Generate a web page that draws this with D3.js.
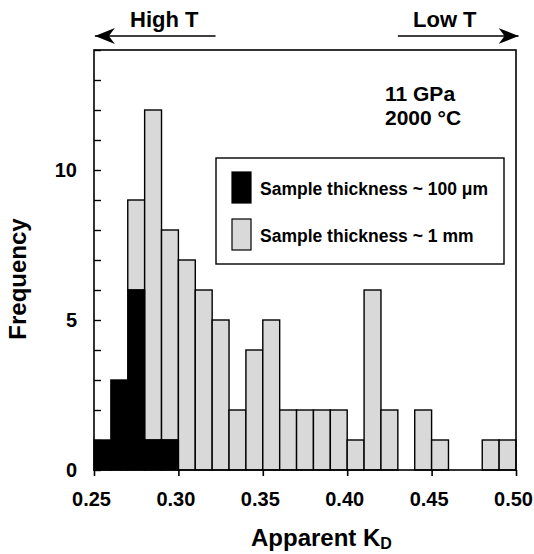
<!DOCTYPE html>
<html>
<head>
<meta charset="utf-8">
<script src="https://cdn.jsdelivr.net/npm/d3@7"></script>
<style>
  body { margin: 0; background: #fff; }
  svg { display: block; font-family: "Liberation Sans", Arial, sans-serif; font-weight: bold; }
</style>
</head>
<body>
<script>
// bin left edges (width 0.01)
var binStarts = [0.25,0.26,0.27,0.28,0.29,0.30,0.31,0.32,0.33,0.34,0.35,0.36,0.37,
                 0.38,0.39,0.40,0.41,0.42,0.43,0.44,0.45,0.46,0.47,0.48,0.49];
var thin  = [1,3,6,1,1,0,0,0,0,0,0,0,0,0,0,0,0,0,0,0,0,0,0,0,0];   // ~100 um
var thick = [0,0,3,11,7,7,6,5,2,4,5,2,2,2,2,1,6,2,0,2,1,0,0,1,1];  // ~1 mm
var BIN = 0.01;
var xTicks = [0.25,0.30,0.35,0.40,0.45,0.50];
var yLabels = [0,5,10];
var yMinor = [0,1,2,3,4,5,6,7,8,9,10,11,12,13,14];
var legendItems = ["Sample thickness ~ 100 \u03bcm", "Sample thickness ~ 1 mm"];

var WIDTH = 534, HEIGHT = 554;
var LEFT = 94, RIGHT = 516, TOP = 50, BOTTOM = 470;
var GRAY = "#d9d9d9";

var x = d3.scaleLinear().domain([0.25, 0.50]).range([LEFT, RIGHT]);
var y = d3.scaleLinear().domain([0, 14]).range([BOTTOM, TOP]);

var svg = d3.select("body").append("svg")
    .attr("width", WIDTH)
    .attr("height", HEIGHT);

var rows = binStarts.map(function (b, i) {
  return {x0: b, x1: b + BIN, thin: thin[i], total: thin[i] + thick[i]};
});

// thick (gray) part stacked above the thin one
svg.append("g").selectAll("rect")
  .data(rows.filter(function (d) { return d.total > d.thin; }))
  .enter().append("rect")
  .attr("x", function (d) { return x(d.x0); })
  .attr("width", function (d) { return x(d.x1) - x(d.x0); })
  .attr("y", function (d) { return y(d.total); })
  .attr("height", function (d) { return y(d.thin) - y(d.total); })
  .attr("fill", GRAY).attr("stroke", "#000").attr("stroke-width", 1.4);

svg.append("g").selectAll("rect")
  .data(rows.filter(function (d) { return d.thin > 0; }))
  .enter().append("rect")
  .attr("x", function (d) { return x(d.x0); })
  .attr("width", function (d) { return x(d.x1) - x(d.x0); })
  .attr("y", function (d) { return y(d.thin); })
  .attr("height", function (d) { return y(0) - y(d.thin); })
  .attr("fill", "#000").attr("stroke", "#000").attr("stroke-width", 1.4);

// frame
svg.append("rect")
  .attr("x", LEFT).attr("y", TOP)
  .attr("width", RIGHT - LEFT).attr("height", BOTTOM - TOP)
  .attr("fill", "none").attr("stroke", "#000").attr("stroke-width", 1.6);

// x axis: ticks outside
var xAxis = d3.axisBottom(x).tickValues(xTicks).tickSize(6).tickPadding(16)
  .tickFormat(d3.format(".2f"));
var gx = svg.append("g").attr("transform", "translate(0," + BOTTOM + ")").call(xAxis);
gx.select(".domain").remove();
gx.selectAll("line").attr("stroke-width", 1.6);
gx.selectAll("text").attr("font-size", 20).attr("font-family", "Liberation Sans, Arial")
  .attr("font-weight", "bold").attr("fill", "#000").attr("dx", -3);

// y axis: minor ticks inside, labels at 0, 5, 10
var gy = svg.append("g").attr("transform", "translate(" + LEFT + ",0)")
  .call(d3.axisRight(y).tickValues(yMinor).tickSize(7).tickFormat(""));
gy.select(".domain").remove();
gy.selectAll("line").attr("stroke-width", 1.4);

svg.append("g").selectAll("text")
  .data(yLabels)
  .enter().append("text")
  .attr("x", LEFT - 17)
  .attr("y", function (d) { return y(d) + 7; })
  .attr("text-anchor", "end")
  .attr("font-size", 20)
  .text(function (d) { return d; });

// axis titles
var xt = svg.append("text")
  .attr("x", 251).attr("y", 546)
  .attr("font-size", 24);
xt.append("tspan").text("Apparent K");
xt.append("tspan").attr("font-size", 16).attr("dy", 3).text("D");

svg.append("text")
  .attr("transform", "translate(26,279) rotate(-90)")
  .attr("text-anchor", "middle")
  .attr("font-size", 24)
  .text("Frequency");

// arrows above the plot
var defs = svg.append("defs");
defs.append("marker")
  .attr("id", "head")
  .attr("viewBox", "0 0 20 16")
  .attr("refX", 20).attr("refY", 8)
  .attr("markerWidth", 20).attr("markerHeight", 16)
  .attr("markerUnits", "userSpaceOnUse")
  .attr("orient", "auto")
  .append("path")
  .attr("d", "M0,0 L20,8 L0,16 L6,8 Z")
  .attr("fill", "#000");

svg.append("line")
  .attr("x1", x(0.322)).attr("x2", x(0.2505)).attr("y1", 36).attr("y2", 36)
  .attr("stroke", "#000").attr("stroke-width", 1.6).attr("marker-end", "url(#head)");
svg.append("line")
  .attr("x1", x(0.430)).attr("x2", x(0.5015)).attr("y1", 36).attr("y2", 36)
  .attr("stroke", "#000").attr("stroke-width", 1.6).attr("marker-end", "url(#head)");

svg.append("text").attr("x", 130).attr("y", 27).attr("font-size", 22).text("High T");
svg.append("text").attr("x", 413).attr("y", 27).attr("font-size", 22).text("Low T");

// conditions
svg.append("text").attr("x", 385).attr("y", 101).attr("font-size", 21).text("11 GPa");
svg.append("text").attr("x", 385).attr("y", 125).attr("font-size", 21).text("2000 \u00b0C");

// legend
var lg = svg.append("g");
lg.append("rect")
  .attr("x", 216).attr("y", 158).attr("width", 288).attr("height", 106)
  .attr("fill", "#fff").attr("stroke", "#000").attr("stroke-width", 1.4);
var swatch = ["#000", GRAY];
var item = lg.selectAll("g.item")
  .data(legendItems)
  .enter().append("g")
  .attr("class", "item")
  .attr("transform", function (d, i) { return "translate(232," + (172 + i * 47) + ")"; });
item.append("rect")
  .attr("width", 19).attr("height", 31)
  .attr("fill", function (d, i) { return swatch[i]; })
  .attr("stroke", "#000").attr("stroke-width", 1.2);
item.append("text")
  .attr("x", 28).attr("y", 23)
  .attr("font-size", 17.5)
  .text(function (d) { return d; });
</script>
</body>
</html>
